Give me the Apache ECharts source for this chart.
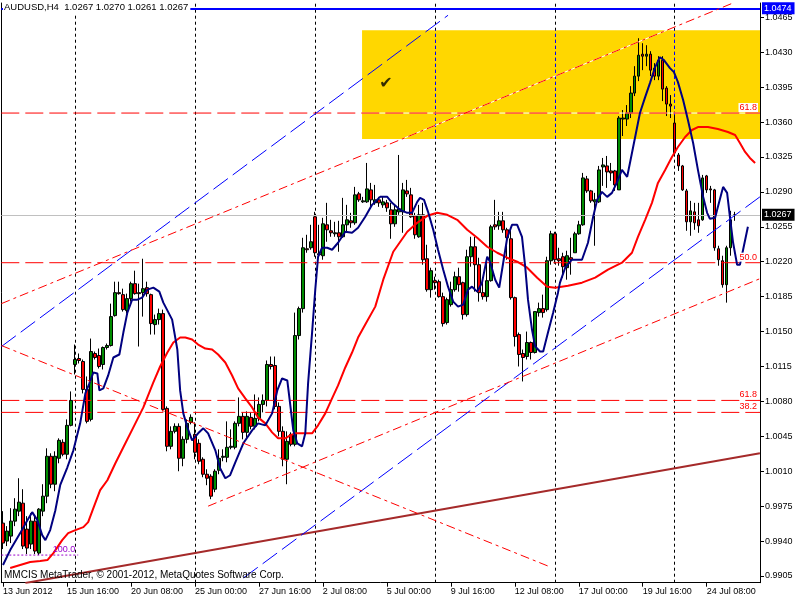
<!DOCTYPE html>
<html><head><meta charset="utf-8">
<script src="https://cdn.jsdelivr.net/npm/echarts@6/dist/echarts.min.js"></script>
<style>html,body{margin:0;padding:0;background:#fff}#c{width:800px;height:600px}</style>
</head><body><div id="c"></div>
<script>
const symbolName = 'AUDUSD,H4';
const lastBar = [1.0267, 1.0270, 1.0261, 1.0267];
const copyright = 'MMCIS MetaTrader, \u00a9 2001-2012, MetaQuotes Software Corp.';
const tickIndex = [0, 16, 32, 48, 64, 80, 96, 112, 128, 144, 160, 176];
const tickLabels = ['13 Jun 2012', '15 Jun 16:00', '20 Jun 08:00', '25 Jun 00:00', '27 Jun 16:00', '2 Jul 08:00',
  '5 Jul 00:00', '9 Jul 16:00', '12 Jul 08:00', '17 Jul 00:00', '19 Jul 16:00', '24 Jul 08:00'];
const weekStarts = [18, 48, 78, 108, 138, 168];
const priceTicks = [0.9905, 0.9940, 0.9975, 1.0010, 1.0045, 1.0080, 1.0115, 1.0150, 1.0185, 1.0220,
  1.0255, 1.0290, 1.0325, 1.0360, 1.0395, 1.0430, 1.0465];
const priceMin = 0.98983, priceMax = 1.04793;
const barMin = -0.425, barMax = 189.325;

// [open, high, low, close] per H4 bar
const candles = [
[0.9958,0.9970,0.9932,0.9938],[0.9940,0.9955,0.9935,0.9950],[0.9945,0.9973,0.9938,0.9960],[0.9960,0.9983,0.9955,0.9972],
[0.9970,1.0003,0.9965,0.9979],[0.9978,0.9992,0.9932,0.9935],[0.9952,0.9965,0.9927,0.9933],[0.9937,0.9968,0.9932,0.9960],
[0.9960,0.9965,0.9927,0.9930],[0.9928,0.9973,0.9926,0.9972],[0.9970,0.9997,0.9965,0.9985],[0.9985,1.0033,0.9978,1.0025],
[1.0025,1.0028,0.9993,0.9997],[0.9997,1.0030,0.9990,1.0025],[1.0023,1.0043,1.0018,1.0041],[1.0039,1.0042,1.0025,1.0027],
[1.0027,1.0062,1.0022,1.0056],[1.0056,1.0090,1.0055,1.0081],[1.0117,1.0137,1.0107,1.0122],[1.0123,1.0128,1.0118,1.0121],
[1.0120,1.0122,1.0088,1.0092],[1.0092,1.0105,1.0058,1.0060],[1.0062,1.0143,1.0060,1.0130],[1.0128,1.0130,1.0122,1.0124],
[1.0126,1.0133,1.0113,1.0115],[1.0117,1.0135,1.0112,1.0134],[1.0134,1.0138,1.0132,1.0136],[1.0136,1.0178,1.0135,1.0165],
[1.0166,1.0200,1.0165,1.0189],[1.0189,1.0200,1.0187,1.0188],[1.0187,1.0193,1.0170,1.0172],[1.0171,1.0188,1.0168,1.0183],
[1.0183,1.0200,1.0180,1.0198],[1.0198,1.0211,1.0187,1.0188],[1.0189,1.0198,1.0135,1.0188],[1.0189,1.0223,1.0165,1.0193],
[1.0194,1.0200,1.0185,1.0188],[1.0187,1.0188,1.0147,1.0158],[1.0157,1.0167,1.0147,1.0162],[1.0162,1.0173,1.0157,1.0168],
[1.0168,1.0172,1.0070,1.0072],[1.0073,1.0075,1.0030,1.0035],[1.0035,1.0055,1.0032,1.0050],[1.0050,1.0058,1.0048,1.0055],
[1.0055,1.0058,1.0010,1.0023],[1.0023,1.0045,1.0015,1.0042],[1.0042,1.0062,1.0038,1.0058],[1.0059,1.0067,1.0057,1.0064],
[1.0047,1.0059,1.0022,1.0029],[1.0038,1.0042,1.0017,1.0020],[1.0022,1.0024,1.0004,1.0007],[1.0007,1.0012,0.9996,1.0003],
[1.0005,1.0007,0.9982,0.9985],[0.9992,1.0012,0.9989,1.0010],[1.0011,1.0032,1.0007,1.0023],[1.0024,1.0032,1.0020,1.0025],
[1.0024,1.0060,1.0019,1.0034],[1.0034,1.0052,1.0032,1.0035],[1.0034,1.0060,1.0032,1.0058],[1.0058,1.0084,1.0055,1.0065],
[1.0065,1.0069,1.0042,1.0049],[1.0049,1.0070,1.0042,1.0065],[1.0064,1.0069,1.0052,1.0055],[1.0055,1.0087,1.0052,1.0063],
[1.0063,1.0084,1.0060,1.0077],[1.0077,1.0087,1.0069,1.0081],[1.0081,1.0121,1.0075,1.0117],[1.0117,1.0125,1.0112,1.0115],
[1.0116,1.0125,1.0072,1.0075],[1.0075,1.0079,1.0045,1.0050],[1.0050,1.0055,1.0015,1.0022],[1.0022,1.0050,0.9997,1.0040],
[1.0047,1.0049,1.0035,1.0037],[1.0037,1.0169,1.0035,1.0146],[1.0146,1.0175,1.0142,1.0173],[1.0173,1.0244,1.0169,1.0234],
[1.0233,1.0247,1.0229,1.0232],[1.0234,1.0257,1.0232,1.0240],[1.0265,1.0270,1.0225,1.0229],[1.0228,1.0257,1.0225,1.0227],
[1.0226,1.0264,1.0222,1.0258],[1.0257,1.0279,1.0240,1.0252],[1.0251,1.0262,1.0245,1.0249],[1.0248,1.0260,1.0245,1.0249],
[1.0249,1.0261,1.0230,1.0245],[1.0245,1.0284,1.0244,1.0257],[1.0257,1.0277,1.0250,1.0262],[1.0261,1.0269,1.0254,1.0259],
[1.0259,1.0295,1.0257,1.0287],[1.0288,1.0290,1.0280,1.0282],[1.0280,1.0285,1.0279,1.0281],[1.0280,1.0319,1.0279,1.0293],
[1.0292,1.0299,1.0274,1.0282],[1.0279,1.0297,1.0277,1.0282],[1.0282,1.0285,1.0275,1.0279],[1.0277,1.0285,1.0274,1.0280],
[1.0279,1.0282,1.0270,1.0274],[1.0272,1.0279,1.0243,1.0258],[1.0258,1.0277,1.0255,1.0272],[1.0270,1.0327,1.0267,1.0273],
[1.0270,1.0299,1.0249,1.0292],[1.0291,1.0302,1.0285,1.0288],[1.0287,1.0294,1.0264,1.0265],[1.0266,1.0269,1.0243,1.0247],
[1.0245,1.0277,1.0244,1.0267],[1.0267,1.0279,1.0217,1.0222],[1.0223,1.0237,1.0190,1.0192],[1.0192,1.0214,1.0184,1.0211],
[1.0201,1.0205,1.0192,1.0199],[1.0200,1.0202,1.0184,1.0185],[1.0185,1.0189,1.0155,1.0158],[1.0159,1.0184,1.0157,1.0182],
[1.0177,1.0200,1.0175,1.0192],[1.0192,1.0210,1.0190,1.0205],[1.0205,1.0214,1.0190,1.0197],[1.0199,1.0200,1.0162,1.0167],
[1.0167,1.0232,1.0165,1.0225],[1.0225,1.0245,1.0215,1.0235],[1.0235,1.0245,1.0190,1.0217],[1.0217,1.0224,1.0180,1.0189],
[1.0189,1.0200,1.0182,1.0185],[1.0185,1.0222,1.0180,1.0201],[1.0201,1.0257,1.0200,1.0255],[1.0257,1.0282,1.0252,1.0255],
[1.0256,1.0270,1.0252,1.0261],[1.0261,1.0270,1.0249,1.0252],[1.0252,1.0254,1.0222,1.0244],[1.0243,1.0252,1.0182,1.0184],
[1.0184,1.0185,1.0135,1.0145],[1.0147,1.0149,1.0115,1.0127],[1.0128,1.0132,1.0100,1.0124],[1.0125,1.0150,1.0122,1.0139],
[1.0139,1.0140,1.0122,1.0129],[1.0129,1.0170,1.0128,1.0170],[1.0169,1.0179,1.0165,1.0173],[1.0173,1.0187,1.0164,1.0169],
[1.0172,1.0225,1.0170,1.0221],[1.0221,1.0251,1.0217,1.0248],[1.0248,1.0250,1.0218,1.0222],[1.0223,1.0234,1.0216,1.0221],
[1.0225,1.0229,1.0204,1.0215],[1.0214,1.0231,1.0202,1.0226],[1.0224,1.0244,1.0207,1.0222],[1.0229,1.0250,1.0229,1.0248],
[1.0248,1.0261,1.0247,1.0257],[1.0257,1.0309,1.0256,1.0304],[1.0303,1.0306,1.0289,1.0291],[1.0291,1.0292,1.0279,1.0281],
[1.0280,1.0289,1.0236,1.0282],[1.0280,1.0316,1.0279,1.0312],[1.0315,1.0324,1.0296,1.0317],[1.0316,1.0326,1.0294,1.0310],
[1.0311,1.0319,1.0301,1.0309],[1.0311,1.0312,1.0291,1.0297],[1.0292,1.0366,1.0292,1.0364],[1.0363,1.0372,1.0346,1.0364],
[1.0363,1.0377,1.0356,1.0369],[1.0369,1.0396,1.0364,1.0389],[1.0389,1.0416,1.0386,1.0406],[1.0406,1.0444,1.0401,1.0427],
[1.0428,1.0439,1.0412,1.0426],[1.0426,1.0437,1.0416,1.0428],[1.0428,1.0431,1.0406,1.0412],[1.0414,1.0419,1.0402,1.0406],
[1.0406,1.0426,1.0402,1.0422],[1.0422,1.0426,1.0381,1.0393],[1.0394,1.0396,1.0366,1.0378],[1.0378,1.0387,1.0364,1.0376],
[1.0359,1.0367,1.0327,1.0329],[1.0327,1.0329,1.0311,1.0316],[1.0316,1.0317,1.0291,1.0292],[1.0291,1.0293,1.0251,1.0260],
[1.0260,1.0281,1.0246,1.0271],[1.0270,1.0279,1.0252,1.0259],[1.0262,1.0279,1.0249,1.0256],[1.0262,1.0307,1.0261,1.0304],
[1.0306,1.0307,1.0289,1.0292],[1.0293,1.0296,1.0279,1.0292],[1.0292,1.0293,1.0231,1.0234],[1.0233,1.0236,1.0216,1.0222],
[1.0221,1.0226,1.0194,1.0197],[1.0197,1.0236,1.0179,1.0234],[1.0234,1.0271,1.0226,1.0262],[1.0267,1.0270,1.0261,1.0267]
];

// fast (navy) moving average, [bar, price]
const fastMA = [[0,0.9916],[1.8,0.9931],[4.3,0.9948],[6.1,0.9961],[7.3,0.9969],[8.6,0.9961],[9.8,0.9946],[10.6,0.9941],[11.8,0.9951],[13.1,0.9971],[14.3,0.9996],[16.1,1.0014],[17.6,1.0031],[19.3,1.0058],[20.6,1.0088],[21.6,1.0098],[22.6,1.0109],[23.6,1.0108],[24.1,1.0091],[25.1,1.0093],[26.3,1.0106],[27.6,1.0124],[29.1,1.0127],[30.1,1.0149],[31.1,1.0169],[32.3,1.0182],[33.6,1.0182],[34.8,1.0184],[36.1,1.0192],[37.6,1.0194],[39.1,1.0190],[40.1,1.0179],[42.3,1.0162],[43.6,1.0132],[44.3,1.0091],[45.1,1.0068],[46.1,1.0054],[47.3,1.0041],[48.8,1.0048],[50.1,1.0053],[51.3,1.0048],[53.1,1.0031],[54.3,1.0013],[55.6,1.0003],[56.8,1.0006],[58.1,1.0019],[60.1,1.0038],[62.3,1.0051],[63.8,1.0058],[65.6,1.0056],[67.3,1.0068],[68.6,1.0091],[69.8,1.0103],[71.1,1.0101],[71.8,1.0078],[72.6,1.0051],[73.6,1.0038],[74.8,1.0035],[75.6,1.0048],[76.3,1.0098],[77.3,1.0149],[78.1,1.0192],[78.8,1.0225],[79.8,1.0234],[81.1,1.0234],[82.3,1.0232],[83.8,1.0239],[85.6,1.0250],[87.3,1.0249],[88.8,1.0254],[90.6,1.0265],[92.3,1.0277],[94.3,1.0285],[96.1,1.0285],[97.3,1.0279],[99.3,1.0272],[101.1,1.0269],[102.3,1.0269],[103.6,1.0280],[104.3,1.0284],[105.3,1.0282],[106.3,1.0270],[107.6,1.0252],[108.8,1.0232],[110.1,1.0212],[111.3,1.0195],[112.6,1.0180],[113.8,1.0175],[115.1,1.0177],[116.3,1.0192],[117.3,1.0195],[118.6,1.0190],[119.8,1.0199],[121.1,1.0225],[121.8,1.0220],[123.1,1.0202],[124.1,1.0194],[125.1,1.0219],[126.1,1.0244],[127.3,1.0257],[128.6,1.0257],[129.8,1.0245],[130.6,1.0215],[131.3,1.0182],[132.3,1.0152],[133.1,1.0135],[134.3,1.0130],[135.1,1.0130],[136.3,1.0149],[137.6,1.0169],[138.8,1.0189],[139.3,1.0199],[140.6,1.0214],[142.3,1.0222],[144.8,1.0222],[146.3,1.0239],[147.6,1.0265],[148.6,1.0282],[149.8,1.0290],[151.1,1.0285],[152.3,1.0289],[153.6,1.0300],[154.8,1.0312],[156.1,1.0305],[156.8,1.0319],[158.1,1.0345],[159.3,1.0369],[160.6,1.0385],[161.8,1.0399],[163.1,1.0415],[164.3,1.0425],[165.3,1.0422],[166.8,1.0414],[167.8,1.0410],[168.8,1.0400],[170.1,1.0382],[171.3,1.0362],[172.6,1.0339],[173.8,1.0312],[175.1,1.0285],[176.1,1.0269],[176.8,1.0263],[178.1,1.0264],[178.8,1.0275],[180.1,1.0295],[181.1,1.0289],[181.8,1.0265],[182.6,1.0239],[183.6,1.0217],[184.3,1.0217],[185.1,1.0232],[186.3,1.0255]];

// slow (red) moving average, [bar, price]
const slowMA = [[1.8,0.9913],[4.3,0.9916],[6.8,0.9919],[9.3,0.9920],[11.1,0.9921],[12.6,0.9928],[14.8,0.9941],[16.3,0.9948],[18.1,0.9951],[20.1,0.9954],[21.3,0.9959],[22.6,0.9973],[24.3,0.9991],[26.1,1.0001],[28.1,1.0018],[30.1,1.0034],[32.6,1.0054],[35.1,1.0074],[37.6,1.0099],[39.3,1.0115],[41.1,1.0129],[42.6,1.0139],[44.3,1.0144],[45.6,1.0144],[47.3,1.0142],[48.8,1.0137],[50.6,1.0133],[52.3,1.0132],[53.8,1.0127],[55.6,1.0119],[57.3,1.0106],[58.8,1.0093],[60.6,1.0083],[62.3,1.0074],[63.8,1.0064],[65.6,1.0058],[67.3,1.0049],[68.8,1.0043],[70.6,1.0043],[71.8,1.0046],[73.1,1.0048],[74.8,1.0048],[77.3,1.0048],[78.8,1.0056],[80.6,1.0068],[82.3,1.0083],[83.8,1.0096],[85.6,1.0114],[87.3,1.0129],[88.8,1.0144],[90.6,1.0157],[93.1,1.0175],[95.1,1.0202],[97.6,1.0230],[101.1,1.0250],[103.6,1.0259],[106.1,1.0266],[108.6,1.0269],[111.1,1.0267],[113.6,1.0262],[116.1,1.0252],[118.6,1.0244],[121.1,1.0235],[123.6,1.0229],[126.1,1.0224],[128.6,1.0220],[131.1,1.0214],[133.6,1.0204],[136.1,1.0195],[138.1,1.0194],[141.3,1.0196],[144.8,1.0199],[148.1,1.0204],[151.3,1.0212],[154.8,1.0219],[157.3,1.0229],[158.8,1.0245],[160.6,1.0262],[162.3,1.0279],[163.8,1.0299],[165.6,1.0312],[167.3,1.0325],[168.8,1.0335],[170.6,1.0345],[172.3,1.0352],[173.8,1.0355],[176.3,1.0355],[178.8,1.0353],[181.3,1.0350],[183.1,1.0347],[184.3,1.0339],[185.6,1.0330],[186.8,1.0324],[188.1,1.0319]];

// drawn objects
const fanBlueUpper = [[-0.4, 1.0135], [111.3, 1.0467]];
const channelBlueLower = [[60.1, 0.9903], [189.3, 1.0285]];
const fanRedUpper = [[-0.4, 1.0178], [182.4, 1.0479]];
const channelRedLower = [[51.3, 0.9975], [189.3, 1.0203]];
const fanRedDown = [[-0.4, 1.0136], [136.3, 0.9915]];
const brownSupport = [[5.6, 0.9898], [189.3, 1.0028]];
const zoneBox = {fromBar: 89.8, low: 1.0343, high: 1.0452};
const fiboPrices = [1.0369, 1.0219, 1.0081, 1.0069];
const fiboTexts = ['61.8', '50.0', '61.8', '38.2'];
const fibo100 = {price: 0.9926, toBar: 18.8, text: '100.0'};
const alertLine = 1.0474;
const checkMark = [95.8, 1.0398];

const FONT = "'Liberation Sans', Arial, sans-serif";
const chart = echarts.init(document.getElementById('c'));

const candleData = candles.map((c, i) => [i, c[0], c[3], c[2], c[1]]);
const redUpperSlope = (fanRedUpper[1][1] - fanRedUpper[0][1]) / (fanRedUpper[1][0] - fanRedUpper[0][0]);
const barAt = p => fanRedUpper[0][0] + (p - fanRedUpper[0][1]) / redUpperSlope;

const lineSeries = (data, color, width, type, z, extra) => Object.assign({
  type: 'line', data, symbol: 'none', silent: true, z, clip: true,
  lineStyle: {color, width, type}
}, extra || {});
const levelLabel = (bar, price, text, color, bg) => ({
  markPoint: {silent: true, z: 20, symbol: 'rect', symbolSize: 0.1, itemStyle: {color: 'rgba(0,0,0,0)'},
    data: [{coord: [bar, price], label: {show: true, position: 'top', align: 'right', distance: 1, offset: [-2, 0],
      formatter: text, color, fontSize: 9, fontFamily: FONT, backgroundColor: bg || 'transparent', padding: [0, 1, 0, 1]}}]}
});

const fiboSeries = fiboPrices.map((p, k) => lineSeries([[barMin, p], [barMax, p]], '#ff0000', 1, [18, 6], 6,
  levelLabel(barMax, p, fiboTexts[k], '#ff0000', '#fff')));

chart.setOption({
  animation: false,
  backgroundColor: '#fff',
  textStyle: {fontFamily: FONT},
  grid: {left: 1, right: 40, top: 3, bottom: 17.3, containLabel: false},
  xAxis: {
    type: 'value', min: barMin, max: barMax,
    axisLine: {show: true, onZero: false, lineStyle: {color: '#000', width: 1}},
    axisTick: {show: true, customValues: tickIndex, length: 4, lineStyle: {color: '#000'}},
    axisLabel: {customValues: tickIndex, color: '#000', fontSize: 9, fontFamily: FONT, align: 'left', margin: 4,
      formatter: v => tickLabels[tickIndex.indexOf(Math.round(v))] || ''},
    splitLine: {show: false}
  },
  yAxis: [{
    type: 'value', position: 'right', min: priceMin, max: priceMax,
    axisLine: {show: true, onZero: false, lineStyle: {color: '#000', width: 1}},
    axisTick: {show: true, customValues: priceTicks, length: 4, lineStyle: {color: '#000'}},
    axisLabel: {customValues: priceTicks, color: '#000', fontSize: 9, fontFamily: FONT, margin: 5,
      formatter: v => v.toFixed(4)},
    splitLine: {show: false}
  }, {
    type: 'value', position: 'left', min: priceMin, max: priceMax,
    axisLine: {show: true, onZero: false, lineStyle: {color: '#000', width: 1}},
    axisTick: {show: false}, axisLabel: {show: false}, splitLine: {show: false}
  }],
  series: [
    {
      type: 'candlestick', name: 'AUDUSD', data: candleData, barWidth: 3, z: 3, silent: true,
      itemStyle: {color: '#008c00', color0: '#ff0000', borderColor: '#000', borderColor0: '#000', borderColorDoji: '#000', borderWidth: 1},
      markArea: {silent: true, z: 1, itemStyle: {color: '#ffd700'},
        data: [[{coord: [zoneBox.fromBar, zoneBox.high]}, {coord: [barMax, zoneBox.low]}]]}
    },
    // chart grid (week separators)
    {
      type: 'line', data: [], z: 2, silent: true,
      markLine: {silent: true, z: 2, precision: 6, symbol: ['none', 'none'], label: {show: false},
        data: weekStarts.map(w => ({xAxis: w, lineStyle: {color: '#000', type: [3, 3], width: 1}}))
          .concat(weekStarts.filter(w => w > zoneBox.fromBar).map(w => [
            {coord: [w, zoneBox.low], lineStyle: {color: '#0000ff', type: [3, 3], width: 1}},
            {coord: [w, zoneBox.high]}]))}
    },
    // white gaps of objects crossing the yellow zone
    lineSeries([[zoneBox.fromBar, fiboPrices[0]], [barMax, fiboPrices[0]]], '#ffffff', 1, 'solid', 5),
    lineSeries([[barAt(zoneBox.low), zoneBox.low], [barAt(zoneBox.high), zoneBox.high]], '#ffffff', 1, 'solid', 5),
    // fibonacci levels
    ...fiboSeries,
    lineSeries([[barMin, fibo100.price], [fibo100.toBar, fibo100.price]], '#9900cc', 1, [2, 2], 6,
      levelLabel(fibo100.toBar, fibo100.price, fibo100.text, '#9900cc')),
    // price lines
    {
      type: 'line', data: [], z: 6, silent: true,
      markLine: {silent: true, z: 6, precision: 6, symbol: ['none', 'none'],
        data: [
          {yAxis: lastBar[3], lineStyle: {color: '#c0c0c0', type: 'solid', width: 1},
            label: {show: true, position: 'end', distance: 2, formatter: lastBar[3].toFixed(4), color: '#fff',
              backgroundColor: '#000', padding: [2, 3, 1, 2], fontSize: 9, fontFamily: FONT}},
          {yAxis: alertLine, lineStyle: {color: '#0000ff', type: 'solid', width: 2},
            label: {show: true, position: 'end', distance: 2, formatter: alertLine.toFixed(4), color: '#fff',
              backgroundColor: '#0000ff', padding: [2, 3, 1, 2], fontSize: 9, fontFamily: FONT}}
        ]}
    },
    lineSeries(slowMA, '#ff0000', 2, 'solid', 7),
    lineSeries(fastMA, '#000080', 2, 'solid', 8),
    lineSeries(brownSupport, '#a52a2a', 2, 'solid', 9),
    lineSeries(fanBlueUpper, '#0000ff', 1, [18, 6], 9),
    lineSeries(channelBlueLower, '#0000ff', 1, [18, 6], 9),
    lineSeries(fanRedUpper, '#ff0000', 1, [9, 4, 3, 4], 9),
    lineSeries(channelRedLower, '#ff0000', 1, [9, 4, 3, 4], 9),
    lineSeries(fanRedDown, '#ff0000', 1, [9, 4, 3, 4], 9),
    {
      type: 'scatter', data: [checkMark], symbolSize: 1, itemStyle: {color: 'rgba(0,0,0,0)'}, z: 10, silent: true,
      label: {show: true, position: 'inside', formatter: '\u2714', color: '#000', fontSize: 16,
        fontFamily: "'DejaVu Sans', sans-serif"}
    }
  ],
  graphic: [
    {type: 'text', left: 3, top: 1, z: 100,
      style: {text: symbolName + '  ' + lastBar.map(v => v.toFixed(4)).join(' '), fill: '#000',
        font: "9.5px 'Liberation Sans', Arial, sans-serif", backgroundColor: '#fff', padding: [1, 2, 1, 1]}},
    {type: 'text', left: 4, top: 570, z: 100,
      style: {text: copyright, fill: '#000', font: "10px 'Liberation Sans', Arial, sans-serif"}}
  ]
});
</script>
</body></html>
